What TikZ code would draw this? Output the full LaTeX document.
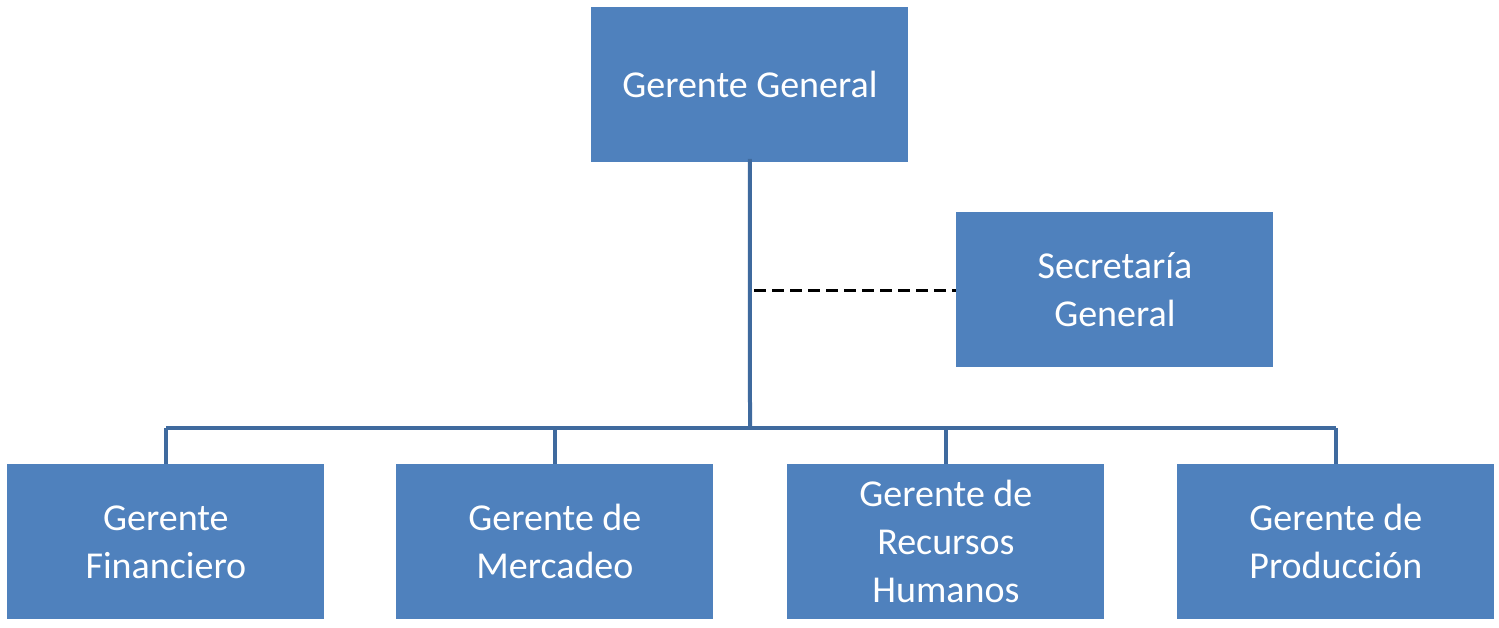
\documentclass[tikz,border=0pt]{standalone}
\usepackage{fontspec}
\setmainfont{Carlito}
\begin{document}
\begin{tikzpicture}[x=0.5pt,y=-0.5pt,
  box/.style={draw=none,fill=boxblue,minimum width=158.5pt,minimum height=77.5pt,text=white,align=center,font=\fontsize{19}{24}\selectfont,anchor=north west,inner sep=0pt},
  conn/.style={draw=lineblue,line width=2pt}]
\definecolor{boxblue}{HTML}{4F81BD}
\definecolor{lineblue}{HTML}{3F6A9E}
\useasboundingbox (0,0) rectangle (1499,627);
\node[box] (gg) at (591,7) {Gerente General};
\node[box] (sg) at (956,212) {Secretaría\\General};
\node[box] (gf) at (7,464) {Gerente\\Financiero};
\node[box] (gm) at (396,464) {Gerente de\\Mercadeo};
\node[box] (gr) at (787,464) {Gerente de\\Recursos\\Humanos};
\node[box] (gp) at (1177,464) {Gerente de\\Producción};
\coordinate (j) at (750,428);
\coordinate (d) at (754,290);
\draw[conn] (gg.south) ++(0,-4) -- (j);
\draw[conn] (gf.north |- j) -- (gp.north |- j);
\foreach \n in {gf,gm,gr,gp} \draw[conn] (\n.north |- j) -- (\n.north);
\draw[black,line width=1.5pt,dash pattern=on 6pt off 3pt] (d) -- (sg.west |- d);
\end{tikzpicture}
\end{document}
